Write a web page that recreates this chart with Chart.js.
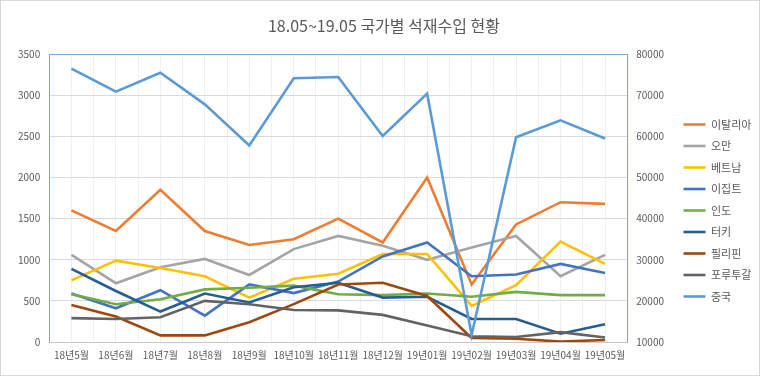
<!DOCTYPE html>
<html><head><meta charset="utf-8">
<script src="https://cdn.jsdelivr.net/npm/chart.js@4"></script>
<style>
html,body{margin:0;padding:0;background:#fff;}
#wrap{width:760px;height:376px;box-sizing:border-box;border:1px solid #d9d9d9;}
canvas{display:block;}
</style></head>
<body><div id="wrap"><canvas id="c" width="758" height="374"></canvas></div>
<script>
const titleText = '18.05~19.05 국가별 석재수입 현황';
const categories = ['18년5월','18년6월','18년7월','18년8월','18년9월','18년10월','18년11월','18년12월','19년01월','19년02월','19년03월','19년04월','19년05월'];
const seriesNames = ['이탈리아','오만','베트남','이집트','인도','터키','필리핀','포루투갈','중국'];
const italy = [1600,1350,1850,1350,1180,1250,1500,1210,2000,700,1430,1700,1680];
const oman = [1060,715,910,1010,815,1130,1290,1170,1000,1150,1290,800,1060];
const vietnam = [750,990,900,800,540,770,830,1070,1070,440,690,1220,950];
const egypt = [590,410,630,320,700,595,735,1040,1210,800,820,950,840];
const india = [580,460,520,640,660,685,580,570,590,550,610,570,570];
const turkey = [890,620,370,590,480,665,720,540,550,280,280,100,215];
const philippines = [450,310,80,80,240,460,700,720,560,50,40,5,25];
const portugal = [290,280,300,500,460,390,385,330,200,70,60,120,55];
const china = [76500,70900,75500,67800,57800,74150,74450,60100,70400,11700,59800,63900,59500];
const leftTicks = [0,500,1000,1500,2000,2500,3000,3500];
const rightTicks = [10000,20000,30000,40000,50000,60000,70000,80000];

const colors = ['#ED7D31','#A5A5A5','#FFC000','#4472C4','#70AD47','#255E91','#9E480E','#636363','#5B9BD5'];
const values = [italy,oman,vietnam,egypt,india,turkey,philippines,portugal,china];
const font = "'Noto Sans CJK KR', 'Noto Sans', sans-serif";
const borderBlue = '#78A9DC';

const datasets = values.map((v,i)=>({
  label: seriesNames[i],
  data: v,
  borderColor: colors[i],
  backgroundColor: colors[i],
  borderWidth: 2.6,
  pointRadius: 0,
  pointHoverRadius: 0,
  tension: 0,
  fill: false,
  yAxisID: i === 8 ? 'y2' : 'y',
  order: values.length - 1 - i
}));

new Chart(document.getElementById('c'), {
  type: 'line',
  data: { labels: categories, datasets },
  options: {
    responsive: false,
    animation: false,
    layout: { padding: { top: 8, left: 8, right: 0, bottom: 7 } },
    plugins: {
      title: { display: true, text: titleText, color: '#595959',
        font: { family: font, size: 16, weight: 'normal' },
        padding: { top: 7, bottom: 19 } },
      legend: { position: 'right', align: 'center', maxWidth: 86,
        title: { display: true, text: ' ', font: { size: 10 }, padding: { top: 32, bottom: 0 } },
        labels: { usePointStyle: true, pointStyle: 'line', pointStyleWidth: 22,
          color: '#595959', font: { family: font, size: 11 }, padding: 10.5,
          sort: (a,b) => a.datasetIndex - b.datasetIndex } },
      tooltip: { enabled: false }
    },
    scales: {
      x: { type: 'category', offset: true,
        grid: { offset: false, color: '#f0f0f0', drawTicks: false },
        border: { color: '#c8c8c8' },
        ticks: { color: '#595959', font: { family: font, size: 10 }, padding: 7, maxRotation: 0, autoSkip: false } },
      x2: { type: 'category', offset: true, position: 'bottom',
        grid: { offset: true, color: '#f0f0f0', drawTicks: false },
        border: { display: false },
        ticks: { display: false } },
      y: { position: 'left', min: 0, max: 3500,
        afterBuildTicks: s => { s.ticks = leftTicks.map(v=>({value:v})); },
        grid: { color: c => c.tick && c.tick.value === 3500 ? borderBlue : '#d9d9d9', drawTicks: false },
        border: { color: borderBlue, width: 1 },
        ticks: { color: '#595959', font: { family: font, size: 10 }, padding: 9, callback: v => String(v) } },
      y2: { position: 'right', min: 10000, max: 80000,
        afterBuildTicks: s => { s.ticks = rightTicks.map(v=>({value:v})); },
        grid: { drawOnChartArea: false, drawTicks: false },
        border: { color: borderBlue, width: 1 },
        ticks: { color: '#595959', font: { family: font, size: 10 }, padding: 9, callback: v => String(v) } }
    }
  }
});
</script></body></html>
